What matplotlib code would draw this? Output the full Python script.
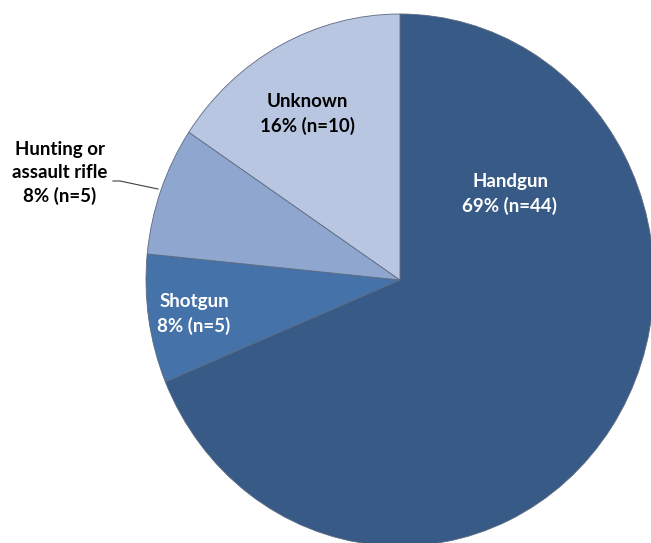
import numpy as np
import matplotlib
matplotlib.use('Agg')
import matplotlib.pyplot as plt

# slices, clockwise from 12 o'clock
labels = ['Handgun', 'Shotgun', 'Hunting or\nassault rifle', 'Unknown']
counts = [44, 5, 5, 10]
pcts = [69, 8, 8, 16]
colors = ['#385a86', '#4572a8', '#8fa7cf', '#b8c6e1']
text_colors = ['white', 'white', 'black', 'black']

plt.rcParams['font.family'] = ['Lato', 'DejaVu Sans']

fig = plt.figure(figsize=(6.51, 5.43), dpi=100)
ax = fig.add_axes([0, 0, 1, 1])

wedges, _ = ax.pie(counts, colors=colors, startangle=90, counterclock=False,
                   radius=1.0, center=(0, 0),
                   wedgeprops=dict(edgecolor='#5a6a80', linewidth=0.6))

# pixel mapping: center (400,280), radii 254 x 266 (the pie is slightly stretched)
ax.set_aspect('auto')
ax.set_xlim(-400/254., (651-400)/254.)
ax.set_ylim((280-543)/266., 280/266.)
ax.axis('off')

def px(x, y):
    return (x-400)/254., (280-y)/266.

txt = [l + '\n%d%% (n=%d)' % (p, c) for l, p, c in zip(labels, pcts, counts)]
pos = [(510, 194), (194, 314), (60, 173), (307, 114)]
for t, (x, y), tc in zip(txt, pos, text_colors):
    ax.text(*px(x, y), t, ha='center', va='center', color=tc,
            fontsize=13.5, fontweight='bold', linespacing=1.4)

# leader line for the small slice
ax.plot(*zip(px(113, 181), px(120, 181), px(158, 189)), color='#404040', lw=0.8)

plt.savefig('out.png', dpi=100)
